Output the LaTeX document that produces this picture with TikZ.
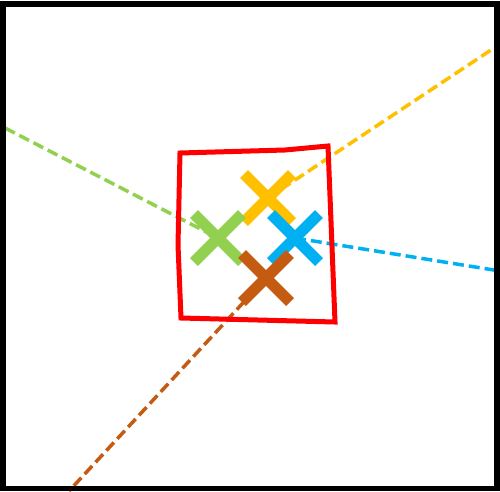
\documentclass[tikz,border=0pt]{standalone}
\definecolor{xyellow}{HTML}{FFC000}
\definecolor{xgreen}{HTML}{92D050}
\definecolor{xblue}{HTML}{00B0F0}
\definecolor{xbrown}{HTML}{C55A11}
\begin{document}
\begin{tikzpicture}[x=1pt,y=-1pt,
  ray/.style={line width=3.5pt,dash pattern=on 11pt off 5pt},
  xmark/.style={line width=11pt}]
\useasboundingbox (0,0) rectangle (500,491);
\fill[white] (0,0) rectangle (500,491);
% centres
\coordinate (Y) at (268,198);
\coordinate (G) at (218,238);
\coordinate (B) at (295,238);
\coordinate (R) at (266,278);
\coordinate (Ye) at (500,44);
\coordinate (Ge) at (5,128);
\coordinate (Be) at (500,271);
\coordinate (Re) at (69,491);
% rays
\draw[ray,xyellow] (Y) -- (Ye);
\draw[ray,xgreen] (Ge) -- (G);
\draw[ray,xblue] (B) -- (Be);
\draw[ray,xbrown] (R) -- (Re);
% red polygon
\draw[red,line width=5pt,line join=miter] (180,153) -- (285,150) -- (328,146) -- (335,322) -- (181,318) -- (178,245) -- cycle;
% crosses
\foreach \c/\col in {Y/xyellow,G/xgreen,B/xblue,R/xbrown}{
  \draw[xmark,\col] ([shift={(-24,-24)}]\c) -- ([shift={(24,24)}]\c);
  \draw[xmark,\col] ([shift={(-24,24)}]\c) -- ([shift={(24,-24)}]\c);
}
% frame
\draw[black,line width=5.5pt] (3,4) rectangle (497,488.5);
\end{tikzpicture}
\end{document}
